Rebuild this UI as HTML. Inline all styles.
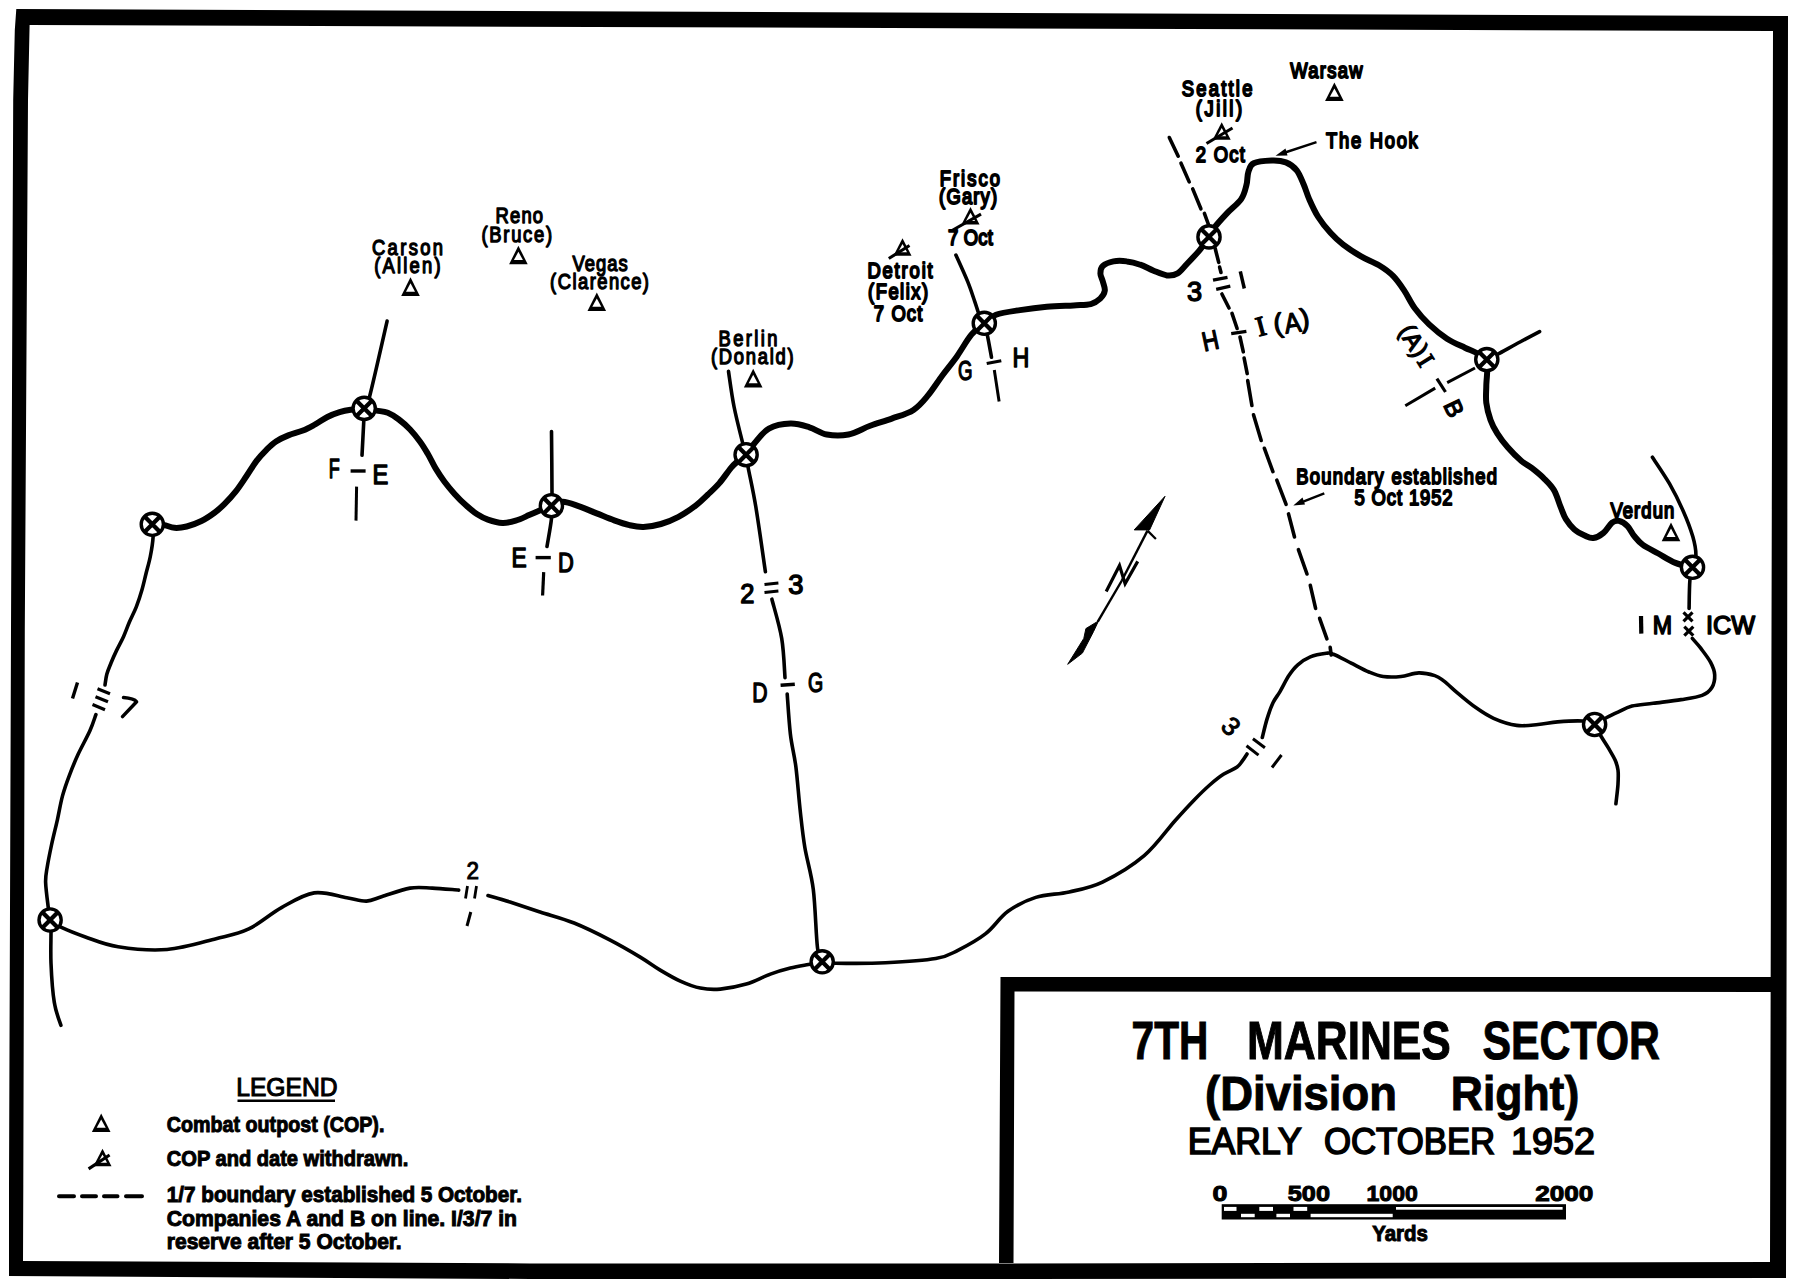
<!DOCTYPE html>
<html><head><meta charset="utf-8"><style>
html,body{margin:0;padding:0;background:#fff;}
svg{display:block;}
text{font-family:"Liberation Sans",sans-serif;fill:#000;}
</style></head><body>
<svg width="1798" height="1285" viewBox="0 0 1798 1285">
<rect width="1798" height="1285" fill="#fff"/>
<g fill="none" stroke="#000">
<path d="M16.3,9 L1788,16 L1787.2,630 L1786,1278 L1000,1279 L530,1279 L9,1276 L9,1185 L11,630 L13.2,100 L14.8,30 Z M29.6,25 L1773,31 L1771.5,630 L1770,1262 L1000,1263.5 L530,1263.4 L23,1261 L23.3,1185 L24.8,630 L28,100 Z" fill="#000" fill-rule="evenodd" stroke="none"/>
<path d="M1000.5,977 L1773,977 L1773,1263 L999,1263 Z M1014.5,991.5 L1771,992 L1771,1263 L1013.5,1263 Z" fill="#000" fill-rule="evenodd" stroke="none"/>
<path d="M152.3,524.3 C154.2,524.4 159.8,524.3 163.5,524.9 C167.2,525.5 170.6,527.5 174.5,527.8 C178.4,528.1 182.2,527.6 186.7,526.5 C191.2,525.4 196.7,523.3 201.4,521 C206.1,518.7 210.9,515.4 214.8,512.5 C218.7,509.6 221.1,507.4 224.6,503.9 C228.1,500.4 231.9,496.4 235.6,491.7 C239.3,487 243.2,480.9 246.7,475.8 C250.2,470.7 253.1,465.4 256.4,461.1 C259.6,456.8 262.9,453.4 266.2,450.1 C269.5,446.8 272.3,443.9 276,441.5 C279.7,439.1 283.8,437.2 288.3,435.4 C292.8,433.6 298.4,432.3 302.9,430.5 C307.4,428.7 311.1,426.6 315.2,424.4 C319.3,422.1 323.3,419.1 327.4,417 C331.5,414.9 335.7,413.3 339.6,412.1 C343.5,410.9 346.6,410.3 350.7,409.7 C354.8,409.1 359.9,408.2 364.2,408.4 C368.5,408.5 372.8,409.9 376.7,410.6 C380.6,411.3 384.1,411.3 387.8,412.8 C391.5,414.3 395.2,416.7 398.9,419.5 C402.6,422.3 406.6,425.8 410.1,429.5 C413.6,433.2 417.1,437.6 420.1,441.7 C423.1,445.8 425.3,449.6 427.9,454 C430.5,458.4 432.8,463.8 435.6,468.4 C438.4,473 441.3,477.5 444.5,481.8 C447.7,486.1 451.1,490.1 454.6,494 C458.1,497.9 462,501.8 465.7,505.1 C469.4,508.4 473.1,511.6 476.8,514 C480.5,516.4 483.6,518.1 487.9,519.6 C492.2,521.1 497.8,522.8 502.4,523 C507,523.2 511.3,522 515.7,520.7 C520.2,519.4 525.2,516.8 529.1,515.1 C533,513.4 535.4,512.3 539.1,510.7 C542.8,509.1 547.5,507.2 551.4,505.7 C555.3,504.2 558.2,501.7 562.8,501.8 C567.4,501.9 573.6,504.5 579.2,506.4 C584.9,508.3 590.9,511.1 596.7,513.4 C602.5,515.7 608.8,518.4 614.2,520.4 C619.7,522.4 624.5,524 629.4,525.1 C634.3,526.2 638.1,527.1 643.4,526.9 C648.7,526.7 655.1,525.7 661,524 C666.9,522.3 672.7,520 678.5,516.9 C684.3,513.8 691.1,509 696,505.3 C700.9,501.6 703.8,498.4 707.7,494.7 C711.6,491 715.5,487.6 719.4,483.1 C723.3,478.6 728,471.5 731,467.9 C734,464.3 735,463.7 737.5,461.5 C740,459.3 743.3,457.8 746.1,454.7 C748.9,451.6 750.7,447.5 754.5,443.2 C758.3,438.9 762.9,432 768.9,428.7 C774.9,425.4 783.9,423.8 790.6,423.6 C797.4,423.4 803.4,425.5 809.4,427.3 C815.4,429.1 820.3,433.3 826.8,434.5 C833.3,435.7 841.3,435.9 848.5,434.5 C855.7,433.1 863,428.4 870.2,425.8 C877.4,423.2 884.6,421.2 891.8,418.6 C899,416 907.5,413.8 913.5,409.9 C919.5,406 923.2,401.2 928,395.4 C932.8,389.6 937.7,381.7 942.5,375.2 C947.3,368.7 952.1,363.1 956.9,356.4 C961.7,349.6 966.8,340.2 971.4,334.7 C976,329.2 980.2,326.6 984.3,323.3 C988.4,320 990,317 996,314.8 C1002,312.6 1011.5,311.4 1020,310.1 C1028.5,308.8 1037.9,307.6 1046.8,306.8 C1055.7,306 1066.2,305.8 1073.5,305.4 C1080.8,304.9 1086.3,305.2 1090.8,304.1 C1095.2,303 1097.9,300.9 1100.2,298.7 C1102.5,296.5 1104.4,293.6 1104.8,290.7 C1105.2,287.8 1103.5,284.3 1102.8,281.4 C1102.1,278.5 1100.4,276 1100.4,273.4 C1100.4,270.8 1100.6,268 1102.8,266 C1105,264 1109.5,262.2 1113.5,261.4 C1117.5,260.6 1122.5,260.8 1126.9,261.4 C1131.4,261.9 1135.8,263.1 1140.2,264.7 C1144.7,266.2 1149.1,268.9 1153.6,270.7 C1158,272.5 1162.9,274.9 1166.9,275.4 C1170.9,275.8 1174.3,275.3 1177.6,273.4 C1180.9,271.5 1183.1,268 1186.9,264 C1190.7,260 1196.6,253.8 1200.3,249.3 C1204,244.8 1206.7,240.5 1209,236.9 C1211.3,233.3 1211.3,231.6 1214.3,227.7 C1217.3,223.8 1222.4,218.2 1226.9,213.4 C1231.4,208.6 1237.9,203.9 1241.2,199.1 C1244.5,194.3 1245.3,189.3 1246.5,184.8 C1247.7,180.3 1247.1,175.8 1248.3,172.2 C1249.5,168.6 1249.8,165.2 1253.7,163.3 C1257.6,161.4 1266.2,160.8 1271.6,160.6 C1277,160.4 1281.7,160.8 1285.9,162.4 C1290.1,164 1293.7,166.7 1296.7,170.4 C1299.7,174.1 1301.7,180 1303.8,184.8 C1305.9,189.6 1306.8,193.7 1309.2,199.1 C1311.6,204.5 1314.6,211.3 1318.2,217 C1321.8,222.7 1326.5,228.5 1330.7,233.1 C1334.9,237.7 1338.1,240.8 1343.2,244.7 C1348.3,248.6 1355.1,253 1361.1,256.4 C1367.1,259.8 1373.6,262 1379,265.3 C1384.4,268.6 1389.1,271.9 1393.3,276.1 C1397.5,280.3 1400.5,285 1404.1,290.4 C1407.7,295.8 1410.6,302.6 1414.8,308.3 C1419,314 1423.7,319.3 1429.1,324.4 C1434.5,329.5 1441,334.8 1447,338.7 C1453,342.6 1460.1,345.4 1464.9,347.7 C1469.7,350 1472.1,350.5 1475.7,352.5 C1479.3,354.5 1485,354.1 1486.8,359.6 C1488.6,365.1 1486.4,378.5 1486.3,385.7 C1486.2,392.9 1485.6,397.1 1486.3,402.8 C1487,408.5 1488.7,414.8 1490.5,419.9 C1492.3,425 1494.5,429 1497.4,433.6 C1500.3,438.2 1503.7,442.7 1507.7,447.3 C1511.7,451.9 1517.4,457.6 1521.4,461 C1525.4,464.4 1527.9,465 1531.6,467.9 C1535.3,470.8 1539.9,474.4 1543.6,478.1 C1547.3,481.8 1551.1,485.2 1553.9,490.1 C1556.8,495 1558.7,502.3 1560.7,507.2 C1562.7,512 1563.6,515.5 1565.9,519.2 C1568.2,522.9 1571.3,526.8 1574.4,529.5 C1577.5,532.2 1581.6,534.1 1584.7,535.5 C1587.8,536.9 1590.2,538.4 1593.3,538 C1596.4,537.6 1600.4,535.5 1603.5,532.9 C1606.6,530.3 1609.5,524.6 1612.1,522.6 C1614.7,520.6 1616.4,520.3 1619,520.9 C1621.6,521.5 1624.9,523.5 1627.5,526.1 C1630.1,528.7 1631.8,533.2 1634.4,536.3 C1637,539.4 1638.9,542 1642.9,544.9 C1646.9,547.8 1652.9,550.5 1658.3,553.5 C1663.7,556.5 1669.7,560.6 1675.4,562.9 C1681.1,565.2 1689.7,566.6 1692.5,567.3" stroke-width="6.0" stroke-linecap="round" stroke-linejoin="round"/>
<path d="M152.3,524.3 C152.4,526.4 153.4,531.4 153.1,536.8 C152.8,542.2 151.5,550.4 150.3,556.5 C149.1,562.6 147.5,567.7 146.1,573.3 C144.7,578.9 143.5,584.5 141.9,590.1 C140.3,595.7 138.4,601.5 136.3,606.9 C134.2,612.3 131.4,617.4 129.3,622.3 C127.2,627.2 125.7,631.7 123.6,636.4 C121.5,641.1 118.7,646 116.6,650.4 C114.5,654.8 112.6,659 111,663 C109.4,667 107.8,670.5 106.8,674.2 C105.8,677.9 105.3,683.2 105,685" stroke-width="3.6" stroke-linecap="round"/>
<path d="M95.9,714.6 C94.9,717.3 92.9,724.1 89.9,730.8 C86.9,737.5 81.3,747.4 77.9,754.8 C74.5,762.2 72,768.4 69.4,775.3 C66.8,782.1 64.5,788.5 62.5,795.9 C60.5,803.3 59.2,811.5 57.4,819.8 C55.5,828.1 53.1,837.5 51.4,845.5 C49.7,853.5 48.1,861.6 47.1,867.7 C46.1,873.8 45.5,875.7 45.6,882 C45.8,888.3 47.2,899.1 48,905.4 C48.8,911.7 49.8,917.6 50.1,920" stroke-width="3.6" stroke-linecap="round"/>
<path d="M50.1,920 C50.2,921.8 50.9,923.3 51,930.5 C51.1,937.7 50.5,951.2 51,963.2 C51.5,975.2 52.6,992 54.3,1002.4 C55.9,1012.8 59.8,1021.5 60.9,1025.3" stroke-width="3.6" stroke-linecap="round"/>
<path d="M50.1,920 C51.9,921.2 55,924.4 60.9,927.2 C66.8,930 75.9,933.7 85.4,937 C94.9,940.3 104.5,944.7 118.1,946.8 C131.7,948.9 150.8,950.9 167.1,949.5 C183.4,948.1 202.5,942.1 216.1,938.7 C229.7,935.3 237.9,934.1 248.8,928.9 C259.7,923.7 270.6,913.6 281.5,907.6 C292.4,901.6 303.3,894.5 314.2,892.9 C325.1,891.3 338.1,896.4 346.8,897.8 C355.5,899.2 360.6,901.3 366.5,901.1 C372.4,900.9 374.9,898.7 382.2,896.5 C389.4,894.3 401.6,889.5 410,888.1 C418.4,886.7 424.2,887.8 432.3,888.1 C440.4,888.4 454.3,889.8 458.7,890.1" stroke-width="3.6" stroke-linecap="round"/>
<path d="M488,895.5 C491.7,896.6 501.3,899.2 510,902 C518.7,904.8 529.4,908.5 540.1,912 C550.8,915.5 562.4,918.3 574.1,923 C585.8,927.7 599.2,934.4 610.2,940.1 C621.2,945.8 631.9,952.1 640.2,957.1 C648.5,962.1 653.5,966.1 660.2,970.1 C666.9,974.1 673.6,978.1 680.3,981.1 C687,984.1 693.6,986.8 700.3,988.1 C707,989.4 712.6,989.8 720.3,989.1 C728,988.4 737.9,986.6 746.3,984.1 C754.6,981.6 763,976.8 770.4,974.1 C777.8,971.4 784.1,969.7 790.4,968.1 C796.7,966.5 803.1,965.5 808.4,964.5 C813.7,963.5 819.9,962.2 822.2,961.8" stroke-width="3.6" stroke-linecap="round"/>
<path d="M822.2,961.8 C824.4,962 824.9,963 835.5,963.2 C846.1,963.4 868.9,963.6 885.6,962.8 C902.3,962 923.7,960.7 935.7,958.6 C947.8,956.5 949.6,954.5 957.9,950.3 C966.2,946.1 977.4,940.1 985.7,933.6 C994.1,927.1 999.6,917.3 1008,911.3 C1016.4,905.3 1025.6,900.6 1035.8,897.4 C1046,894.2 1058.1,894.4 1069.2,891.9 C1080.3,889.4 1090,888.1 1102.5,882.1 C1115,876.1 1132.2,865.9 1144.2,855.7 C1156.2,845.5 1166.5,830.3 1174.8,821 C1183.1,811.7 1188.4,806 1194.2,800 C1200,794 1204.8,789.3 1209.7,785 C1214.6,780.7 1218.8,777.3 1223.4,774.3 C1228,771.3 1234,769.2 1237.1,767 C1240.2,764.8 1240.5,763.3 1242.2,761.1 C1243.9,758.9 1246.2,755.2 1247,754" stroke-width="3.6" stroke-linecap="round"/>
<path d="M1262.3,737.5 C1263.1,734.4 1265.2,724.9 1267,719.1 C1268.8,713.3 1270.8,707.4 1273,702.8 C1275.2,698.2 1277.3,696.1 1280,691.6 C1282.7,687.1 1285.9,680.1 1288.9,675.6 C1291.9,671.1 1294.2,668 1297.8,664.9 C1301.4,661.8 1305.5,658.8 1310.3,656.9 C1315,655 1322.4,653.8 1326.3,653.3 C1330.2,652.8 1329.2,652.6 1333.4,654.2 C1337.6,655.8 1345.3,660.1 1351.2,663.1 C1357.1,666.1 1363.7,669.8 1369,672 C1374.3,674.2 1377.9,675.8 1383.2,676.5 C1388.5,677.2 1395.1,677.1 1401,676.5 C1406.9,675.9 1413.2,673 1418.8,672.9 C1424.4,672.8 1430.6,674.3 1434.8,675.6 C1439,676.9 1439.8,677.9 1443.7,680.9 C1447.6,683.9 1452.7,688.9 1458,693.4 C1463.3,697.9 1469.9,703.5 1475.8,707.6 C1481.7,711.8 1486.8,715.3 1493.6,718.3 C1500.4,721.3 1509.3,724.4 1516.7,725.4 C1524.1,726.4 1531.3,725.1 1538.1,724.5 C1544.9,723.9 1550.2,722.5 1557.6,721.9 C1565,721.3 1576.3,720.6 1582.5,721 C1588.7,721.4 1592.6,723.9 1594.6,724.5" stroke-width="3.6" stroke-linecap="round"/>
<path d="M1594.6,724.5 C1596.6,723.3 1602.9,719.6 1606.8,717.5 C1610.7,715.4 1613.8,714 1618,712.1 C1622.2,710.2 1626.2,707.6 1632,706.1 C1637.8,704.6 1644.9,704.4 1653.1,703.3 C1661.3,702.2 1672.9,700.9 1681.1,699.6 C1689.3,698.3 1697,697.4 1702.1,695.4 C1707.2,693.4 1709.8,690.9 1711.9,687.5 C1714,684.1 1714.9,679 1714.7,674.8 C1714.5,670.6 1712.8,666.6 1710.5,662.2 C1708.2,657.8 1703.7,652.2 1700.7,648.2 C1697.7,644.2 1693.7,640 1692.3,638.4" stroke-width="3.6" stroke-linecap="round"/>
<path d="M1594.6,724.5 C1595.7,726.5 1598.9,732.6 1601.2,736.5 C1603.5,740.4 1605.9,743.7 1608.2,747.7 C1610.5,751.7 1613.6,756.6 1615.2,760.3 C1616.8,764 1617.5,766.1 1618,770.1 C1618.5,774.1 1618.3,778.5 1618,784.1 C1617.7,789.7 1616.2,800.5 1615.9,803.8" stroke-width="3.6" stroke-linecap="round"/>
<path d="M1652.4,457.2 C1655.2,461.6 1664.3,474.6 1669.5,483.7 C1674.7,492.8 1679.6,502.9 1683.5,511.7 C1687.4,520.5 1690.7,529.3 1692.8,536.6 C1694.9,543.9 1696,550.3 1695.9,555.4 C1695.9,560.5 1693.1,565.3 1692.5,567.3" stroke-width="3.6" stroke-linecap="round"/>
<path d="M1692.5,567.3 C1692.1,569.4 1690.5,573.3 1689.9,580.2 C1689.3,587.1 1689.2,603.8 1689.1,608.5" stroke-width="3.6" stroke-linecap="round"/>
<path d="M364.2,408.4 C365.1,406.5 365.6,411.9 369.4,397.3 C373.2,382.8 384.2,333.8 387.1,321.1" stroke-width="3.6" stroke-linecap="round"/>
<path d="M364.2,408.4 C364.1,410.8 364.1,414.8 363.7,422.6 C363.3,430.4 362.3,449.9 362,455.3" stroke-width="3.6" stroke-linecap="round"/>
<line x1="356.6" y1="486.6" x2="356" y2="520.6" stroke-width="3"/>
<path d="M551.5,431.5 C551.6,441.7 552,480.2 552,492.6 C552,505 551.5,503.5 551.4,505.7" stroke-width="3.6" stroke-linecap="round"/>
<path d="M551.4,505.7 C551.4,507.9 552.1,512.4 551.4,519.2 C550.7,526 547.7,542 547,546.5" stroke-width="3.6" stroke-linecap="round"/>
<line x1="543.7" y1="572.1" x2="542.6" y2="595.5" stroke-width="3.2"/>
<path d="M728.5,371.4 C729.4,377.2 731.6,394.4 734,406.5 C736.4,418.6 741,436.3 743,444.3 C745,452.3 745.6,453 746.1,454.7" stroke-width="3.6" stroke-linecap="round"/>
<path d="M746.1,454.7 C746.4,456.7 746.4,457.9 748,466.7 C749.6,475.5 753,489.8 755.9,507.3 C758.8,524.8 763.8,561 765.4,571.8" stroke-width="3.6" stroke-linecap="round"/>
<path d="M771.9,599.2 C773.5,605.7 779.5,625.3 781.7,638.4 C783.9,651.5 784.5,671.2 785,677.7" stroke-width="3.6" stroke-linecap="round"/>
<path d="M787.2,694 C787.7,700.7 789,722.1 790.4,734.3 C791.8,746.5 794.3,754.3 795.9,767 C797.5,779.7 798.7,797.1 800.2,810.6 C801.7,824.1 802.7,834.6 804.9,847.8 C807.1,860.9 811.2,872.8 813.3,889.5 C815.4,906.2 816,935.9 817.5,947.9 C819,959.9 821.4,959.5 822.2,961.8" stroke-width="3.6" stroke-linecap="round"/>
<path d="M955.9,255.1 C957.9,259.5 964.6,274 967.7,281.7 C970.8,289.4 972.8,295.9 974.7,301.3 C976.6,306.7 977.3,310.2 978.9,313.9 C980.5,317.6 983.4,321.7 984.3,323.3" stroke-width="3.6" stroke-linecap="round"/>
<path d="M984.3,323.3 C984.8,325.2 986.1,329.2 987.3,334.9 C988.5,340.6 990.8,353.6 991.5,357.3" stroke-width="3.6" stroke-linecap="round"/>
<line x1="994.3" y1="370" x2="999.1" y2="401.6" stroke-width="3"/>
<line x1="1475" y1="368" x2="1447.2" y2="382.6" stroke-width="3"/>
<line x1="1435.2" y1="388.1" x2="1405.3" y2="405.7" stroke-width="3"/>
<path d="M1486.8,359.6 C1488.5,358.8 1491.6,357.4 1497.1,354.5 C1502.6,351.6 1512.9,345.8 1520,342 C1527.1,338.2 1536.3,333.3 1539.6,331.6" stroke-width="3.6" stroke-linecap="round"/>
<line x1="1169.3" y1="137.5" x2="1178.2" y2="156.2" stroke-width="3.6" stroke-linecap="round"/>
<line x1="1181" y1="163.2" x2="1189.2" y2="181.9" stroke-width="3.6" stroke-linecap="round"/>
<line x1="1192.7" y1="188.9" x2="1200.9" y2="208.8" stroke-width="3.6" stroke-linecap="round"/>
<line x1="1204.4" y1="213.4" x2="1209" y2="226" stroke-width="3.6" stroke-linecap="round"/>
<line x1="1215.2" y1="248.5" x2="1218.7" y2="262.4" stroke-width="3.6" stroke-linecap="round"/>
<line x1="1219.6" y1="267.1" x2="1221" y2="272.5" stroke-width="3.6" stroke-linecap="round"/>
<line x1="1221.9" y1="294" x2="1229" y2="308" stroke-width="3.6" stroke-linecap="round"/>
<line x1="1232" y1="313.4" x2="1237.1" y2="328.5" stroke-width="3.6" stroke-linecap="round"/>
<line x1="1240" y1="337" x2="1243.3" y2="351.8" stroke-width="3.6" stroke-linecap="round"/>
<line x1="1244.1" y1="358" x2="1247.2" y2="373.6" stroke-width="3.6" stroke-linecap="round"/>
<line x1="1247.7" y1="380.6" x2="1251.9" y2="405.5" stroke-width="3.6" stroke-linecap="round"/>
<line x1="1253.5" y1="414.8" x2="1261.2" y2="440.5" stroke-width="3.6" stroke-linecap="round"/>
<line x1="1264.4" y1="448.3" x2="1272.9" y2="471.6" stroke-width="3.6" stroke-linecap="round"/>
<line x1="1276.8" y1="480.2" x2="1286.1" y2="504.3" stroke-width="3.6" stroke-linecap="round"/>
<line x1="1288.5" y1="513.9" x2="1294.5" y2="537" stroke-width="3.6" stroke-linecap="round"/>
<line x1="1298.4" y1="549.6" x2="1307" y2="574" stroke-width="3.6" stroke-linecap="round"/>
<line x1="1310.3" y1="585.3" x2="1315.6" y2="608.4" stroke-width="3.6" stroke-linecap="round"/>
<line x1="1319.6" y1="618.3" x2="1326.9" y2="638.8" stroke-width="3.6" stroke-linecap="round"/>
<line x1="1330.2" y1="647.4" x2="1331.2" y2="655" stroke-width="3.6" stroke-linecap="round"/>
<circle cx="152.3" cy="524.3" r="11.1" fill="#fff" stroke-width="3.4"/>
<path d="M144.1,516.1L160.5,532.5M160.5,516.1L144.1,532.5" stroke-width="4.3"/>
<circle cx="364.2" cy="408.4" r="11.1" fill="#fff" stroke-width="3.4"/>
<path d="M356,400.2L372.4,416.6M372.4,400.2L356,416.6" stroke-width="4.3"/>
<circle cx="551.4" cy="505.7" r="11.1" fill="#fff" stroke-width="3.4"/>
<path d="M543.2,497.5L559.6,513.9M559.6,497.5L543.2,513.9" stroke-width="4.3"/>
<circle cx="746.1" cy="454.7" r="11.1" fill="#fff" stroke-width="3.4"/>
<path d="M737.9,446.5L754.3,462.9M754.3,446.5L737.9,462.9" stroke-width="4.3"/>
<circle cx="984.3" cy="323.3" r="11.1" fill="#fff" stroke-width="3.4"/>
<path d="M976.1,315.1L992.5,331.5M992.5,315.1L976.1,331.5" stroke-width="4.3"/>
<circle cx="1209" cy="236.9" r="11.1" fill="#fff" stroke-width="3.4"/>
<path d="M1200.8,228.7L1217.2,245.1M1217.2,228.7L1200.8,245.1" stroke-width="4.3"/>
<circle cx="1486.8" cy="359.6" r="11.1" fill="#fff" stroke-width="3.4"/>
<path d="M1478.6,351.4L1495,367.8M1495,351.4L1478.6,367.8" stroke-width="4.3"/>
<circle cx="1692.5" cy="567.3" r="11.1" fill="#fff" stroke-width="3.4"/>
<path d="M1684.3,559.1L1700.7,575.5M1700.7,559.1L1684.3,575.5" stroke-width="4.3"/>
<circle cx="1594.6" cy="724.5" r="11.1" fill="#fff" stroke-width="3.4"/>
<path d="M1586.4,716.3L1602.8,732.7M1602.8,716.3L1586.4,732.7" stroke-width="4.3"/>
<circle cx="50.1" cy="920" r="11.1" fill="#fff" stroke-width="3.4"/>
<path d="M41.9,911.8L58.3,928.2M58.3,911.8L41.9,928.2" stroke-width="4.3"/>
<circle cx="822.2" cy="961.8" r="11.1" fill="#fff" stroke-width="3.4"/>
<path d="M814,953.6L830.4,970M830.4,953.6L814,970" stroke-width="4.3"/>
<path d="M410.5,277.3L401.2,295.9L419.8,295.9Z" fill="#000" stroke="none"/>
<path d="M410.5,283.3L406,291.7L415,291.7Z" fill="#fff" stroke="none"/>
<path d="M518.4,245.7L509.1,264.3L527.7,264.3Z" fill="#000" stroke="none"/>
<path d="M518.4,251.7L513.9,260.1L522.9,260.1Z" fill="#fff" stroke="none"/>
<path d="M596.8,292.4L587.5,311L606.1,311Z" fill="#000" stroke="none"/>
<path d="M596.8,298.4L592.3,306.8L601.3,306.8Z" fill="#fff" stroke="none"/>
<path d="M753.2,368.8L743.9,387.4L762.5,387.4Z" fill="#000" stroke="none"/>
<path d="M753.2,374.8L748.7,383.2L757.7,383.2Z" fill="#fff" stroke="none"/>
<path d="M1334.4,82.4L1325.1,101L1343.7,101Z" fill="#000" stroke="none"/>
<path d="M1334.4,88.4L1329.9,96.8L1338.9,96.8Z" fill="#fff" stroke="none"/>
<path d="M1671,522.6L1661.7,541.2L1680.3,541.2Z" fill="#000" stroke="none"/>
<path d="M1671,528.6L1666.5,537L1675.5,537Z" fill="#fff" stroke="none"/>
<path d="M970.5,207.1L961.5,224.6L979.5,224.6Z" fill="#000" stroke="none"/>
<path d="M970.5,212.7L966,221.1L975,221.1Z" fill="#fff" stroke="none"/>
<line x1="952" y1="230.5" x2="981" y2="214.2" stroke-width="3.1"/>
<path d="M902.5,238.3L893.5,255.8L911.5,255.8Z" fill="#000" stroke="none"/>
<path d="M902.5,243.9L898,252.3L907,252.3Z" fill="#fff" stroke="none"/>
<line x1="888.8" y1="258.5" x2="909.5" y2="245.5" stroke-width="3.1"/>
<path d="M1221.7,122.3L1212.7,139.8L1230.7,139.8Z" fill="#000" stroke="none"/>
<path d="M1221.7,127.9L1217.2,136.3L1226.2,136.3Z" fill="#fff" stroke="none"/>
<line x1="1206.5" y1="143.5" x2="1232.5" y2="128" stroke-width="3.1"/>
<text x="0" y="0" font-size="18.4" font-weight="normal" textLength="71" lengthAdjust="spacing" transform="translate(372 254.5) scale(1 1.2195)" stroke="#000" stroke-width="1.15" stroke-linejoin="round">Carson</text>
<text x="0" y="0" font-size="18.4" font-weight="normal" textLength="66.4" lengthAdjust="spacing" transform="translate(374.2 273.1) scale(1 1.2195)" stroke="#000" stroke-width="1.15" stroke-linejoin="round">(Allen)</text>
<text x="0" y="0" font-size="18.4" font-weight="normal" textLength="47.6" lengthAdjust="spacing" transform="translate(495.5 223) scale(1 1.2195)" stroke="#000" stroke-width="1.15" stroke-linejoin="round">Reno</text>
<text x="0" y="0" font-size="18.4" font-weight="normal" textLength="70.6" lengthAdjust="spacing" transform="translate(481.5 241.5) scale(1 1.2195)" stroke="#000" stroke-width="1.15" stroke-linejoin="round">(Bruce)</text>
<text x="0" y="0" font-size="18.4" font-weight="normal" textLength="55.2" lengthAdjust="spacing" transform="translate(572.6 270.5) scale(1 1.2195)" stroke="#000" stroke-width="1.15" stroke-linejoin="round">Vegas</text>
<text x="0" y="0" font-size="18.4" font-weight="normal" textLength="98.9" lengthAdjust="spacing" transform="translate(550.1 288.5) scale(1 1.2195)" stroke="#000" stroke-width="1.15" stroke-linejoin="round">(Clarence)</text>
<text x="0" y="0" font-size="18.4" font-weight="normal" textLength="58.9" lengthAdjust="spacing" transform="translate(718.6 346.2) scale(1 1.2195)" stroke="#000" stroke-width="1.15" stroke-linejoin="round">Berlin</text>
<text x="0" y="0" font-size="18.4" font-weight="normal" textLength="82.5" lengthAdjust="spacing" transform="translate(711 364) scale(1 1.2195)" stroke="#000" stroke-width="1.15" stroke-linejoin="round">(Donald)</text>
<text x="0" y="0" font-size="18.4" font-weight="normal" textLength="60.2" lengthAdjust="spacing" transform="translate(939.7 185.9) scale(1 1.2195)" stroke="#000" stroke-width="1.6" stroke-linejoin="round">Frisco</text>
<text x="0" y="0" font-size="18.4" font-weight="normal" textLength="58" lengthAdjust="spacing" transform="translate(939.1 203.5) scale(1 1.2195)" stroke="#000" stroke-width="1.6" stroke-linejoin="round">(Gary)</text>
<text x="0" y="0" font-size="18.4" font-weight="normal" textLength="44.9" lengthAdjust="spacing" transform="translate(948 245.3) scale(1 1.2195)" stroke="#000" stroke-width="1.6" stroke-linejoin="round">7 Oct</text>
<text x="0" y="0" font-size="18.4" font-weight="normal" textLength="65.3" lengthAdjust="spacing" transform="translate(867.4 277.5) scale(1 1.2195)" stroke="#000" stroke-width="1.6" stroke-linejoin="round">Detroit</text>
<text x="0" y="0" font-size="18.4" font-weight="normal" textLength="59.9" lengthAdjust="spacing" transform="translate(868.1 299) scale(1 1.2195)" stroke="#000" stroke-width="1.6" stroke-linejoin="round">(Felix)</text>
<text x="0" y="0" font-size="18.4" font-weight="normal" textLength="48.5" lengthAdjust="spacing" transform="translate(873.8 320.9) scale(1 1.2195)" stroke="#000" stroke-width="1.6" stroke-linejoin="round">7 Oct</text>
<text x="0" y="0" font-size="18.4" font-weight="normal" textLength="70.6" lengthAdjust="spacing" transform="translate(1181.8 96.2) scale(1 1.2195)" stroke="#000" stroke-width="1.6" stroke-linejoin="round">Seattle</text>
<text x="0" y="0" font-size="18.4" font-weight="normal" textLength="46.3" lengthAdjust="spacing" transform="translate(1195.8 116) scale(1 1.2195)" stroke="#000" stroke-width="1.6" stroke-linejoin="round">(Jill)</text>
<text x="0" y="0" font-size="18.4" font-weight="normal" textLength="49.1" lengthAdjust="spacing" transform="translate(1195.8 162.1) scale(1 1.2195)" stroke="#000" stroke-width="1.6" stroke-linejoin="round">2 Oct</text>
<text x="0" y="0" font-size="18.4" font-weight="normal" textLength="72.3" lengthAdjust="spacing" transform="translate(1290.3 78) scale(1 1.2195)" stroke="#000" stroke-width="1.6" stroke-linejoin="round">Warsaw</text>
<text x="0" y="0" font-size="18.4" font-weight="normal" textLength="91.7" lengthAdjust="spacing" transform="translate(1326.1 148) scale(1 1.2195)" stroke="#000" stroke-width="1.6" stroke-linejoin="round">The Hook</text>
<text x="0" y="0" font-size="18.4" font-weight="normal" textLength="63.8" lengthAdjust="spacing" transform="translate(1610.4 517.9) scale(1 1.2195)" stroke="#000" stroke-width="1.6" stroke-linejoin="round">Verdun</text>
<text x="0" y="0" font-size="18.4" font-weight="normal" textLength="200.7" lengthAdjust="spacing" transform="translate(1296.3 484) scale(1 1.2195)" stroke="#000" stroke-width="1.6" stroke-linejoin="round">Boundary established</text>
<text x="0" y="0" font-size="18.4" font-weight="normal" textLength="98" lengthAdjust="spacing" transform="translate(1354.5 505.4) scale(1 1.2195)" stroke="#000" stroke-width="1.6" stroke-linejoin="round">5 Oct 1952</text>
<line x1="1316.5" y1="142.2" x2="1282" y2="153.5" stroke-width="2.4"/>
<path d="M1275.5,155.8 L1285.5,148.5 L1287.5,155.5 Z" fill="#000" stroke="none"/>
<line x1="1324.3" y1="493.4" x2="1300" y2="502.8" stroke-width="2.4"/>
<path d="M1293.3,505.6 L1302.5,497.5 L1305,504.5 Z" fill="#000" stroke="none"/>
<text x="328.8" y="478.4" font-size="27" font-weight="normal" text-anchor="start" textLength="11" lengthAdjust="spacingAndGlyphs" stroke="#000" stroke-width="1.4" stroke-linejoin="round">F</text>
<text x="372.4" y="483.9" font-size="27" font-weight="normal" text-anchor="start" textLength="15.8" lengthAdjust="spacingAndGlyphs" stroke="#000" stroke-width="1.4" stroke-linejoin="round">E</text>
<text x="511.6" y="567.2" font-size="27" font-weight="normal" text-anchor="start" textLength="15.2" lengthAdjust="spacingAndGlyphs" stroke="#000" stroke-width="1.4" stroke-linejoin="round">E</text>
<text x="557.9" y="571.5" font-size="27" font-weight="normal" text-anchor="start" textLength="15.8" lengthAdjust="spacingAndGlyphs" stroke="#000" stroke-width="1.4" stroke-linejoin="round">D</text>
<text x="740.3" y="602.5" font-size="27" font-weight="normal" text-anchor="start" textLength="14.2" lengthAdjust="spacingAndGlyphs" stroke="#000" stroke-width="1.4" stroke-linejoin="round">2</text>
<text x="788.3" y="593.8" font-size="27" font-weight="normal" text-anchor="start" textLength="15.2" lengthAdjust="spacingAndGlyphs" stroke="#000" stroke-width="1.4" stroke-linejoin="round">3</text>
<text x="752.3" y="701.6" font-size="27" font-weight="normal" text-anchor="start" textLength="15.3" lengthAdjust="spacingAndGlyphs" stroke="#000" stroke-width="1.4" stroke-linejoin="round">D</text>
<text x="807.9" y="691.8" font-size="27" font-weight="normal" text-anchor="start" textLength="15.2" lengthAdjust="spacingAndGlyphs" stroke="#000" stroke-width="1.4" stroke-linejoin="round">G</text>
<text x="957.9" y="379.5" font-size="27" font-weight="normal" text-anchor="start" textLength="14.5" lengthAdjust="spacingAndGlyphs" stroke="#000" stroke-width="1.4" stroke-linejoin="round">G</text>
<text x="1012.5" y="367.1" font-size="27" font-weight="normal" text-anchor="start" textLength="16.8" lengthAdjust="spacingAndGlyphs" stroke="#000" stroke-width="1.4" stroke-linejoin="round">H</text>
<text x="1186.9" y="301" font-size="27" font-weight="normal" text-anchor="start" textLength="15.1" lengthAdjust="spacingAndGlyphs" stroke="#000" stroke-width="1.4" stroke-linejoin="round">3</text>
<text x="1202" y="350.1" font-size="27" font-weight="normal" text-anchor="start" textLength="16.4" lengthAdjust="spacingAndGlyphs" transform="rotate(-12 1210.2 340.1)" stroke="#000" stroke-width="1.4" stroke-linejoin="round">H</text>
<line x1="350.6" y1="471" x2="365.6" y2="471" stroke-width="3.4"/>
<line x1="535.6" y1="557.6" x2="550.8" y2="557.6" stroke-width="3.4"/>
<line x1="780.6" y1="685.3" x2="794.8" y2="684.2" stroke-width="3.4"/>
<line x1="986.7" y1="363.5" x2="1001.3" y2="360.7" stroke-width="3.2"/>
<line x1="1231.2" y1="333.7" x2="1246.4" y2="331.4" stroke-width="3.2"/>
<line x1="1213" y1="280.1" x2="1227.5" y2="277.3" stroke-width="3.3"/>
<line x1="1216.2" y1="289.3" x2="1230.3" y2="286.2" stroke-width="3.3"/>
<line x1="1240.3" y1="271.3" x2="1244.3" y2="288.5" stroke-width="3.5"/>
<line x1="764.5" y1="584.5" x2="778.4" y2="583" stroke-width="3.2"/>
<line x1="764.5" y1="592.5" x2="778.4" y2="591" stroke-width="3.2"/>
<line x1="77.5" y1="682.5" x2="72.5" y2="698.5" stroke-width="3.4"/>
<line x1="97.5" y1="688.8" x2="110" y2="693.8" stroke-width="3.2"/>
<line x1="95.5" y1="696.8" x2="108" y2="701.8" stroke-width="3.2"/>
<line x1="92.5" y1="704.5" x2="105" y2="709.8" stroke-width="3.2"/>
<path d="M123.5,697.6 Q134,698.5 136.6,701.8 L122.5,716.6" stroke-width="3.5" stroke-linejoin="round" stroke-linecap="round"/>
<text x="466.5" y="879.2" font-size="24" font-weight="normal" text-anchor="start" textLength="12.5" lengthAdjust="spacingAndGlyphs" stroke="#000" stroke-width="1.0">2</text>
<line x1="467.5" y1="886" x2="465.5" y2="898.5" stroke-width="2.8"/>
<line x1="476.5" y1="886" x2="474.5" y2="898.5" stroke-width="2.8"/>
<line x1="470.8" y1="912" x2="467" y2="926" stroke-width="3"/>
<text x="1231.1" y="726.2" font-size="26" font-weight="normal" text-anchor="middle" transform="rotate(45 1231.1 726.2)" dominant-baseline="central" stroke="#000" stroke-width="1.0">3</text>
<line x1="1246.5" y1="745.7" x2="1258.5" y2="755.1" stroke-width="3"/>
<line x1="1252.9" y1="738.8" x2="1264.9" y2="747.8" stroke-width="3"/>
<line x1="1281.5" y1="755" x2="1272" y2="767.5" stroke-width="3"/>
<line x1="1641" y1="616" x2="1641.3" y2="633.6" stroke-width="4.2"/>
<text x="1652.7" y="634.2" font-size="26" font-weight="normal" text-anchor="start" textLength="19.3" lengthAdjust="spacingAndGlyphs" stroke="#000" stroke-width="1.6" stroke-linejoin="round">M</text>
<text x="1706" y="634.2" font-size="26" font-weight="normal" text-anchor="start" textLength="49" lengthAdjust="spacingAndGlyphs" stroke="#000" stroke-width="1.6" stroke-linejoin="round">ICW</text>
<line x1="1683.5" y1="612.3" x2="1692.5" y2="621.3" stroke-width="3.2"/>
<line x1="1692.5" y1="612.3" x2="1683.5" y2="621.3" stroke-width="3.2"/>
<line x1="1684.3" y1="626.7" x2="1693.3" y2="635.7" stroke-width="3.2"/>
<line x1="1693.3" y1="626.7" x2="1684.3" y2="635.7" stroke-width="3.2"/>
<text x="1261.4" y="335.5" font-size="28" font-weight="normal" text-anchor="middle" transform="rotate(-15 1261.4 328)" style="font-family:&quot;Liberation Serif&quot;,serif" stroke="#000" stroke-width="1.3" stroke-linejoin="round">I</text>
<text x="1278" y="332.5" font-size="27" font-weight="normal" text-anchor="middle" transform="rotate(-8 1278 324)" stroke="#000" stroke-width="1.3" stroke-linejoin="round">(</text>
<text x="1292.5" y="332.5" font-size="28" font-weight="normal" text-anchor="middle" textLength="16.5" lengthAdjust="spacingAndGlyphs" transform="rotate(-8 1292.5 322)" stroke="#000" stroke-width="1.3" stroke-linejoin="round">A</text>
<text x="1305" y="327.5" font-size="27" font-weight="normal" text-anchor="middle" transform="rotate(-8 1304 320)" stroke="#000" stroke-width="1.3" stroke-linejoin="round">)</text>
<text x="1407.5" y="330" font-size="24" font-weight="normal" text-anchor="middle" transform="rotate(58 1407.5 330)" dominant-baseline="central" stroke="#000" stroke-width="1.3">(</text>
<text x="1413.5" y="340.5" font-size="24" font-weight="normal" text-anchor="middle" transform="rotate(58 1413.5 340.5)" dominant-baseline="central" stroke="#000" stroke-width="1.3">A</text>
<text x="1420.5" y="351" font-size="24" font-weight="normal" text-anchor="middle" transform="rotate(58 1420.5 351)" dominant-baseline="central" stroke="#000" stroke-width="1.3">)</text>
<text x="1426" y="360.5" font-size="25" font-weight="normal" text-anchor="middle" transform="rotate(58 1426 360.5)" style="font-family:&quot;Liberation Serif&quot;,serif" dominant-baseline="central" stroke="#000" stroke-width="1.3">I</text>
<text x="1454" y="408.5" font-size="24" font-weight="normal" text-anchor="middle" transform="rotate(65 1454 408.5)" dominant-baseline="central" stroke="#000" stroke-width="1.4">B</text>
<line x1="1436.9" y1="378.7" x2="1445.5" y2="392" stroke-width="3.2"/>
<line x1="1147.5" y1="530.6" x2="1121.6" y2="581" stroke-width="2.4"/>
<line x1="1121.6" y1="581" x2="1097.8" y2="621.6" stroke-width="2.4"/>
<path d="M1165,496.3 L1134.2,529.9 L1149.6,529.9 Z" fill="#000" stroke="#000" stroke-width="1"/>
<line x1="1147.5" y1="530.6" x2="1155.9" y2="539" stroke-width="2.2"/>
<path d="M1106.2,591.5 L1119.5,565.6 L1125.1,583.8 L1137.7,561.4" stroke-width="3.2" stroke-linejoin="miter"/>
<path d="M1098.5,620.9 L1085.9,628.6 L1083.8,638.4 L1067.7,664.3 L1082.4,653.1 L1093.6,631.4 Z" fill="#000" stroke="#000" stroke-width="1"/>
<text x="1131.6" y="1059.1" font-size="53" font-weight="bold" text-anchor="start" textLength="76.7" lengthAdjust="spacingAndGlyphs" >7TH</text>
<text x="1247" y="1059.1" font-size="53" font-weight="bold" text-anchor="start" textLength="203.8" lengthAdjust="spacingAndGlyphs" >MARINES</text>
<text x="1482.5" y="1059.1" font-size="53" font-weight="bold" text-anchor="start" textLength="177.5" lengthAdjust="spacingAndGlyphs" >SECTOR</text>
<text x="1205.1" y="1109.9" font-size="49" font-weight="bold" text-anchor="start" textLength="191.8" lengthAdjust="spacingAndGlyphs" >(Division</text>
<text x="1450.8" y="1109.9" font-size="49" font-weight="bold" text-anchor="start" textLength="128.4" lengthAdjust="spacingAndGlyphs" >Right)</text>
<text x="1187.7" y="1154.2" font-size="36.7" font-weight="normal" text-anchor="start" textLength="114.1" lengthAdjust="spacingAndGlyphs" stroke="#000" stroke-width="1.6">EARLY</text>
<text x="1324" y="1154.2" font-size="36.7" font-weight="normal" text-anchor="start" textLength="171.2" lengthAdjust="spacingAndGlyphs" stroke="#000" stroke-width="1.6">OCTOBER</text>
<text x="1511" y="1154.2" font-size="36.7" font-weight="normal" text-anchor="start" textLength="84" lengthAdjust="spacingAndGlyphs" stroke="#000" stroke-width="1.6">1952</text>
<text x="1212.5" y="1201.2" font-size="22" font-weight="bold" text-anchor="start" textLength="14.9" lengthAdjust="spacingAndGlyphs" >0</text>
<text x="1287.8" y="1201.2" font-size="22" font-weight="bold" text-anchor="start" textLength="42.2" lengthAdjust="spacingAndGlyphs" >500</text>
<text x="1366.5" y="1201.2" font-size="22" font-weight="bold" text-anchor="start" textLength="51.3" lengthAdjust="spacingAndGlyphs" >1000</text>
<text x="1535.2" y="1201.2" font-size="22" font-weight="bold" text-anchor="start" textLength="58.2" lengthAdjust="spacingAndGlyphs" >2000</text>
<text x="1372.2" y="1241.1" font-size="22" font-weight="bold" text-anchor="start" textLength="55.8" lengthAdjust="spacingAndGlyphs" >Yards</text>
<rect x="1221.7" y="1204.2" width="344.3" height="15.3" fill="#000" stroke="none"/>
<rect x="1224" y="1206.9" width="12.5" height="4" fill="#fff" stroke="none"/>
<rect x="1259.3" y="1206.9" width="13.7" height="4" fill="#fff" stroke="none"/>
<rect x="1293.5" y="1206.9" width="13.7" height="4" fill="#fff" stroke="none"/>
<rect x="1396" y="1207" width="166.6" height="2.7" fill="#fff" stroke="none"/>
<rect x="1241" y="1213.8" width="13.7" height="3.4" fill="#fff" stroke="none"/>
<rect x="1276.4" y="1213.8" width="13.6" height="3.4" fill="#fff" stroke="none"/>
<rect x="1310.6" y="1213.8" width="82.1" height="3.4" fill="#fff" stroke="none"/>
<text x="236.2" y="1096" font-size="26" font-weight="normal" text-anchor="start" textLength="101.4" lengthAdjust="spacingAndGlyphs" stroke="#000" stroke-width="1.1">LEGEND</text>
<line x1="237.5" y1="1100.8" x2="335" y2="1100.8" stroke-width="2.6"/>
<path d="M101.2,1113.4L91.9,1132L110.5,1132Z" fill="#000" stroke="none"/>
<path d="M101.2,1119.4L96.7,1127.8L105.7,1127.8Z" fill="#fff" stroke="none"/>
<path d="M102.5,1148.8L93.5,1166.3L111.5,1166.3Z" fill="#000" stroke="none"/>
<path d="M102.5,1154.4L98,1162.8L107,1162.8Z" fill="#fff" stroke="none"/>
<line x1="88.6" y1="1168.9" x2="109.6" y2="1155" stroke-width="3.1"/>
<path d="M59,1196.2 H74 M82,1196.2 H96 M104,1196.2 H117.5 M126,1196.2 H142" stroke-width="4" stroke-linecap="round"/>
<text x="166.8" y="1131.5" font-size="21.6" font-weight="bold" text-anchor="start" textLength="217.6" lengthAdjust="spacingAndGlyphs" >Combat outpost (COP).</text>
<text x="166.8" y="1166.3" font-size="21.6" font-weight="bold" text-anchor="start" textLength="241.6" lengthAdjust="spacingAndGlyphs" >COP and date withdrawn.</text>
<text x="166.8" y="1202.3" font-size="21.6" font-weight="bold" text-anchor="start" textLength="355.1" lengthAdjust="spacingAndGlyphs" >1/7 boundary established 5 October.</text>
<text x="166.8" y="1226.3" font-size="21.6" font-weight="bold" text-anchor="start" textLength="350.2" lengthAdjust="spacingAndGlyphs" >Companies A and B on line. I/3/7 in</text>
<text x="166.8" y="1249" font-size="21.6" font-weight="bold" text-anchor="start" textLength="234.9" lengthAdjust="spacingAndGlyphs" >reserve after 5 October.</text>
</g>
</svg>
</body></html>
